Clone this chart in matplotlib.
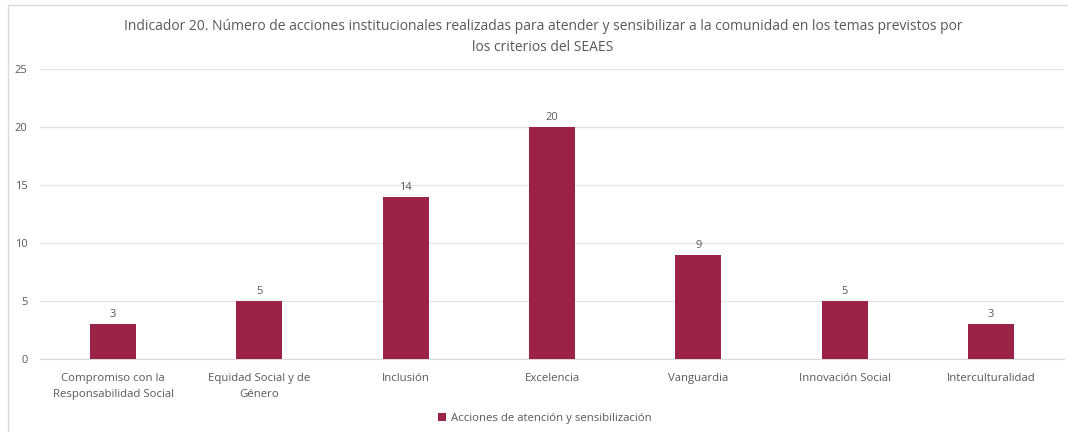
import matplotlib.pyplot as plt
import matplotlib.patches as mpatches
import numpy as np

categorias = [
    'Compromiso con la\nResponsabilidad Social',
    'Equidad Social y de\nGénero',
    'Inclusión',
    'Excelencia',
    'Vanguardia',
    'Innovación Social',
    'Interculturalidad',
]
valores = [3, 5, 14, 20, 9, 5, 3]
serie = 'Acciones de atención y sensibilización'
titulo = ('Indicador 20. Número de acciones institucionales realizadas para atender y sensibilizar a la comunidad en los temas previstos por\n'
          'los criterios del SEAES')
yticks = [0, 5, 10, 15, 20, 25]

color_barra = '#9b2348'
color_texto = '#595959'


def main():
    plt.rcParams['font.family'] = ['Open Sans', 'DejaVu Sans']
    fig = plt.figure(figsize=(10.68, 4.32), dpi=100)
    ax = fig.add_axes([40 / 1068, 1 - 359 / 432, 1024 / 1068, 290 / 432])

    # marco del gráfico
    fig.patches.append(mpatches.Rectangle((8 / 1068, -0.05), 1.1, 1 - 5 / 432 + 0.05,
                                          transform=fig.transFigure, fill=False,
                                          edgecolor='#d9d9d9', linewidth=1))

    x = np.arange(len(categorias))
    bars = ax.bar(x, valores, width=0.315, color=color_barra, label=serie, zorder=3)
    for b, v in zip(bars, valores):
        ax.text(b.get_x() + b.get_width() / 2, v + 0.35, str(v), ha='center', va='bottom',
                fontsize=8, color=color_texto)

    ax.set_xlim(-0.5, len(categorias) - 0.5)
    ax.set_ylim(0, 25)
    ax.set_yticks(yticks)
    ax.yaxis.grid(True, color='#e6e6e6', linewidth=1, zorder=0)
    ax.set_xticks(x)
    ax.set_xticklabels(categorias, fontsize=8.2, color=color_texto, linespacing=1.6)
    ax.tick_params(axis='y', labelsize=8, labelcolor=color_texto, length=0, pad=9)
    ax.tick_params(axis='x', length=0, pad=10)
    for s in ['top', 'right', 'left']:
        ax.spines[s].set_visible(False)
    ax.spines['bottom'].set_color('#d9d9d9')

    fig.text(543 / 1068, 1 - 37 / 432, titulo, ha='center', va='center', fontsize=10,
             color=color_texto, linespacing=1.5)

    fig.legend(handles=[bars], labels=[serie], loc='center', bbox_to_anchor=(0.51, 1 - 418 / 432),
               frameon=False, fontsize=8.2, labelcolor=color_texto, handlelength=0.7,
               handleheight=0.7, handletextpad=0.4)

    fig.savefig('out.png', dpi=100)


if __name__ == '__main__':
    main()
